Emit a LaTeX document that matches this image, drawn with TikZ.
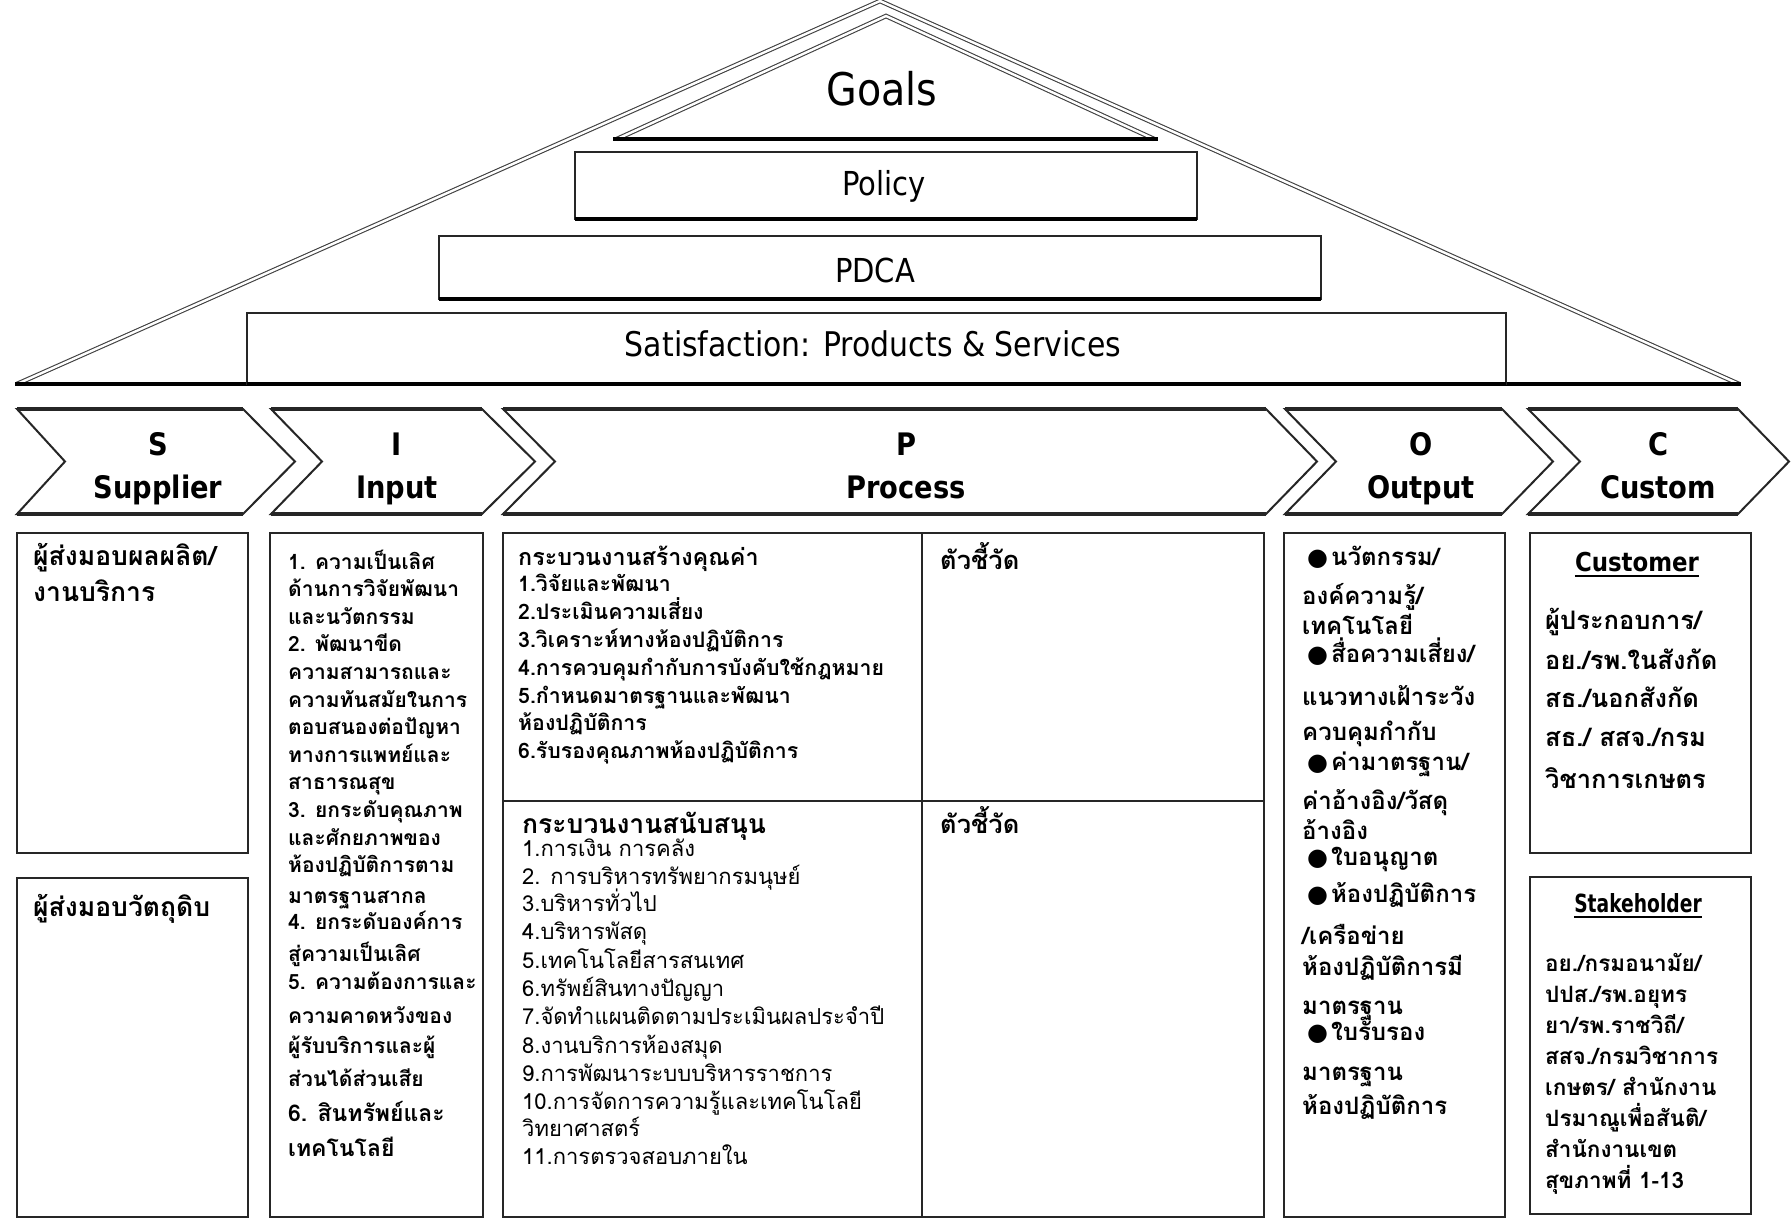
\documentclass[tikz,border=0pt]{standalone}
\usepackage{fontspec}
\usepackage{graphicx}
\setmainfont{DejaVu Sans}[FakeStretch=0.88]
\newfontfamily\thai[Script=Thai]{Loma}
\newfontfamily\symb{DejaVu Sans}
\newcommand\fs[1]{\fontsize{#1}{#1}\selectfont}
\newcommand\bul{\hspace*{5pt}{\symb ●}\hspace{3pt}}
\begin{document}
\begin{tikzpicture}[x=1pt,y=-1pt,
  outline/.style={draw=black!85, line width=2.4pt},
  heavy/.style={draw=black, line width=4.5pt},
  tri/.style={draw=black!75, line width=1.1pt, double=white, double distance=2.4pt},
  layer/.style={inner sep=0pt, anchor=base, font=\fs{33}},
  head/.style={inner sep=0pt, anchor=base, font=\bfseries\fs{31}},
  ln/.style={inner sep=0pt, anchor=base west},
  suptext/.style={ln, font=\thai\bfseries\fs{26.5}},
  intext/.style={ln, font=\thai\bfseries\fs{21}},
  intextb/.style={ln, font=\thai\bfseries\fs{23}},
  valtext/.style={ln, font=\thai\bfseries\fs{21.3}},
  valhead/.style={ln, font=\thai\bfseries\fs{23.3}},
  kpi/.style={ln, font=\thai\bfseries\fs{25.5}},
  suphead/.style={ln, font=\thai\bfseries\fs{26.5}},
  suplist/.style={ln, font=\thai\fs{22}},
  outtext/.style={ln, font=\thai\bfseries\fs{24}},
  custtext/.style={ln, font=\thai\bfseries\fs{25.5}},
  staketext/.style={ln, font=\thai\bfseries\fs{22.5}},
  boxhead/.style={inner sep=0pt, anchor=base, font=\bfseries\fs{26}}
]
\useasboundingbox[fill=white] (0,0) rectangle (1791,1219);

% ---------- pyramid ----------
\draw[tri] (17,384) -- (880,1) -- (1739,384);
\draw[heavy] (15,384) -- (1741,384);
\draw[tri] (617,139) -- (886,16) -- (1154,139);
\draw[draw=black, line width=3.5pt] (613,139) -- (1158,139);
\node[inner sep=0pt, anchor=base, font=\fs{45}] (goals) at (882,105) {Goals};

\draw[outline, fill=white] (575,152) rectangle (1197,219);
\draw[heavy] (575,219) -- (1197,219);
\node[layer] (policy) at (884,195) {Policy};

\draw[outline, fill=white] (439,236) rectangle (1321,299);
\draw[heavy] (439,299) -- (1321,299);
\node[layer] (pdca) at (875,282) {PDCA};

\draw[outline, fill=white] (247,313) rectangle (1506,384);
\draw[heavy] (247,384) -- (1506,384);
\node[layer, font=\fs{34}] (satis) at (873,356) {Satisfaction: Products \& Services};

% ---------- SIPOC chevrons ----------
\foreach \a/\b/\c/\d in {17/243/295/65, 271/482/535/322, 503/1266/1317/555,
                         1285/1502/1553/1336, 1528/1738/1789/1580}{
  \draw[outline, line width=2pt, line join=miter]
    (\a,409) -- (\b,409) -- (\c,461.5) -- (\b,514) -- (\a,514) -- (\d,461.5) -- cycle;
  \draw[draw=black!85, line width=4pt] (\a,409) -- (\b,409);
  \draw[draw=black!85, line width=4pt] (\a,514) -- (\b,514);
}
\foreach \x/\l/\w [count=\k] in {158/S/Supplier, 397/I/Input, 906/P/Process,
                                 1421/O/Output, 1658/C/Custom}{
  \node[head] (ltr\k) at (\x,455) {\l};
  \node[head] (word\k) at (\x,498) {\w};
}

% ---------- frames ----------
\draw[outline] (17,533) rectangle (248,853);
\draw[outline] (17,878) rectangle (248,1217);
\draw[outline] (270,533) rectangle (483,1217);
\draw[outline] (503,533) rectangle (1264,1217);
\draw[outline] (922,533) -- (922,1217);
\draw[outline] (503,801) -- (1264,801);
\draw[outline] (1284,533) rectangle (1505,1217);
\draw[outline] (1530,533) rectangle (1751,853);
\draw[outline] (1530,877) rectangle (1751,1214);

% ---------- supplier ----------
\foreach \yy/\txt [count=\i] in {557/{ผู้ส่งมอบผลผลิต/}, 593/{งานบริการ}}
  \node[suptext] (supa\i) at (33,\yy+8) {\txt};
\node[suptext] (supb) at (33,916) {ผู้ส่งมอบวัตถุดิบ};

% ---------- input ----------
\foreach \txt [count=\i] in {{1. ความเป็นเลิศ}, {ด้านการวิจัยพัฒนา}, {และนวัตกรรม},
    {2. พัฒนาขีด}, {ความสามารถและ}, {ความทันสมัยในการ}, {ตอบสนองต่อปัญหา},
    {ทางการแพทย์และ}, {สาธารณสุข}, {3. ยกระดับคุณภาพ}, {และศักยภาพของ},
    {ห้องปฏิบัติการตาม}}
  \node[intext] (ina\i) at (288,563+27.6*\i-27.6+6) {\txt};
\foreach \yy/\txt [count=\i] in {897/{มาตรฐานสากล}, 923/{4. ยกระดับองค์การ},
    955/{สู่ความเป็นเลิศ}, 983/{5. ความต้องการและ}, 1017/{ความคาดหวังของ},
    1047/{ผู้รับบริการและผู้}, 1080/{ส่วนได้ส่วนเสีย}}
  \node[intext] (inb\i) at (288,\yy+6) {\txt};
\foreach \yy/\txt [count=\i] in {1115/{6. สินทรัพย์และ}, 1150/{เทคโนโลยี}}
  \node[intextb] (inc\i) at (288,\yy+6.5) {\txt};

% ---------- process ----------
\node[valhead] (valhead) at (518,565) {กระบวนงานสร้างคุณค่า};
\foreach \yy/\txt [count=\i] in {585/{1.วิจัยและพัฒนา}, 613/{2.ประเมินความเสี่ยง},
    641/{3.วิเคราะห์ทางห้องปฏิบัติการ}, 669/{4.การควบคุมกำกับการบังคับใช้กฎหมาย},
    697/{5.กำหนดมาตรฐานและพัฒนา}, 724/{ห้องปฏิบัติการ},
    752/{6.รับรองคุณภาพห้องปฏิบัติการ}}
  \node[valtext] (val\i) at (518,\yy+6) {\txt};
\node[kpi] (kpia) at (940,569) {ตัวชี้วัด};
\node[kpi] (kpib) at (940,833) {ตัวชี้วัด};

\node[suphead] (suphead) at (522,833) {กระบวนงานสนับสนุน};
\foreach \yy/\txt [count=\i] in {850/{1.การเงิน การคลัง}, 878/{2. การบริหารทรัพยากรมนุษย์},
    905/{3.บริหารทั่วไป}, 933/{4.บริหารพัสดุ}, 962/{5.เทคโนโลยีสารสนเทศ},
    990/{6.ทรัพย์สินทางปัญญา}, 1018/{7.จัดทำแผนติดตามประเมินผลประจำปี},
    1047/{8.งานบริการห้องสมุด}, 1075/{9.การพัฒนาระบบบริหารราชการ},
    1103/{10.การจัดการความรู้และเทคโนโลยี}, 1130/{วิทยาศาสตร์},
    1158/{11.การตรวจสอบภายใน}}
  \node[suplist] (sup\i) at (522,\yy+6.5) {\txt};

% ---------- output ----------
\foreach \yy/\txt [count=\i] in {558/{\bul นวัตกรรม/}, 597/{องค์ความรู้/}, 627/{เทคโนโลยี},
    655/{\bul สื่อความเสี่ยง/}, 698/{แนวทางเฝ้าระวัง}, 733/{ควบคุมกำกับ},
    763/{\bul ค่ามาตรฐาน/}, 802/{ค่าอ้างอิง/วัสดุ}, 832/{อ้างอิง},
    858/{\bul ใบอนุญาต}, 895/{\bul ห้องปฏิบัติการ}, 937/{/เครือข่าย},
    968/{ห้องปฏิบัติการมี}, 1007/{มาตรฐาน}, 1033/{\bul ใบรับรอง},
    1073/{มาตรฐาน}, 1107/{ห้องปฏิบัติการ}}
  \node[outtext] (out\i) at (1302,\yy+7) {\txt};

% ---------- customer / stakeholder ----------
\node[boxhead] (cust) at (1637,571) {Customer};
\draw[line width=2.2pt] ([yshift=-5pt]cust.base west) -- ([yshift=-5pt]cust.base east);
\foreach \yy/\txt [count=\i] in {622/{ผู้ประกอบการ/}, 662/{อย./รพ.ในสังกัด},
    700/{สธ./นอกสังกัด}, 739/{สธ./ สสจ./กรม}, 781/{วิชาการเกษตร}}
  \node[custtext] (cus\i) at (1545,\yy+7) {\txt};

\node[boxhead, font=\bfseries\fs{25}] (stake) at (1638,912) {\scalebox{0.85}[1]{Stakeholder}};
\draw[line width=2.2pt] ([yshift=-5pt]stake.base west) -- ([yshift=-5pt]stake.base east);
\foreach \yy/\txt [count=\i] in {965/{อย./กรมอนามัย/}, 996/{ปปส./รพ.อยุทร},
    1027/{ยา/รพ.ราชวิถี/}, 1058/{สสจ./กรมวิชาการ}, 1089/{เกษตร/ สำนักงาน},
    1120/{ปรมาณูเพื่อสันติ/}, 1151/{สำนักงานเขต}, 1182/{สุขภาพที่ 1-13}}
  \node[staketext] (stk\i) at (1545,\yy+6.5) {\txt};
\end{tikzpicture}
\end{document}
